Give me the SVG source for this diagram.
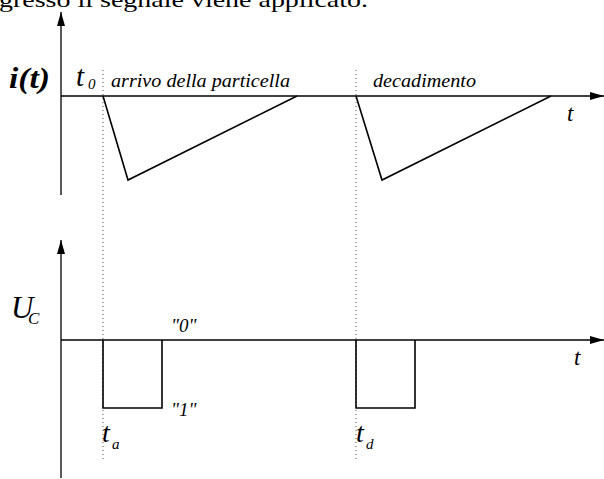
<svg xmlns="http://www.w3.org/2000/svg" width="604" height="479" viewBox="0 0 604 479">
<style>
.ax{stroke:#000;stroke-width:1.3;fill:none}
.sig{stroke:#000;stroke-width:1.6;fill:none;stroke-linejoin:miter}
.dot{stroke:#555;stroke-width:1;stroke-dasharray:1 3;fill:none}
text{font-family:'Liberation Serif','DejaVu Serif',serif;fill:#000}
.it{font-style:italic}
</style>
<defs>
<marker id="arr" viewBox="0 0 14 8" refX="14" refY="4" markerWidth="14" markerHeight="8" markerUnits="userSpaceOnUse" orient="auto">
<path d="M0,0 L14,4 L0,8 Z" fill="#000"/>
</marker>
</defs>
<text x="-1" y="7" font-size="21" textLength="369" lengthAdjust="spacingAndGlyphs">gresso il segnale viene applicato.</text>
<g id="connectors">
<line class="ax" x1="61" y1="195" x2="61" y2="12" marker-end="url(#arr)"/>
<line class="ax" x1="61" y1="96" x2="604" y2="96" marker-end="url(#arr)"/>
<line class="ax" x1="61" y1="478" x2="61" y2="240" marker-end="url(#arr)"/>
<line class="ax" x1="61" y1="340" x2="604" y2="340" marker-end="url(#arr)"/>
<line class="dot" x1="103" y1="70" x2="103" y2="460"/>
<line class="dot" x1="356" y1="70" x2="356" y2="460"/>
</g>
<g id="signal-current">
<polyline class="sig" points="103,96 128,180 297,96"/>
<polyline class="sig" points="356,96 382,180 551,96"/>
</g>
<g id="signal-uc">
<polyline class="sig" points="103,340 103,408 162,408 162,340"/>
<polyline class="sig" points="356,340 356,408 415,408 415,340"/>
</g>
<g id="labels-top">
<text class="it" x="9" y="88" font-size="29" font-weight="bold" textLength="41" lengthAdjust="spacingAndGlyphs">i(t)</text>
<text class="it" x="76" y="86" font-size="29">t</text>
<text class="it" x="88" y="89" font-size="15">0</text>
<text class="it" x="111" y="87" font-size="18" textLength="179" lengthAdjust="spacingAndGlyphs">arrivo della particella</text>
<text class="it" x="373" y="87" font-size="18" textLength="103" lengthAdjust="spacingAndGlyphs">decadimento</text>
<text class="it" x="567" y="121" font-size="23">t</text>
</g>
<g id="labels-bottom">
<text class="it" x="11" y="318" font-size="31">U</text>
<text class="it" x="28" y="324" font-size="17">C</text>
<text class="it" x="171" y="332" font-size="19">"0"</text>
<text class="it" x="171" y="416" font-size="19">"1"</text>
<text class="it" x="102" y="442" font-size="28">t</text>
<text class="it" x="112" y="449" font-size="15">a</text>
<text class="it" x="356" y="442" font-size="28">t</text>
<text class="it" x="366" y="449" font-size="15">d</text>
<text class="it" x="574" y="365" font-size="23">t</text>
</g>
</svg>
